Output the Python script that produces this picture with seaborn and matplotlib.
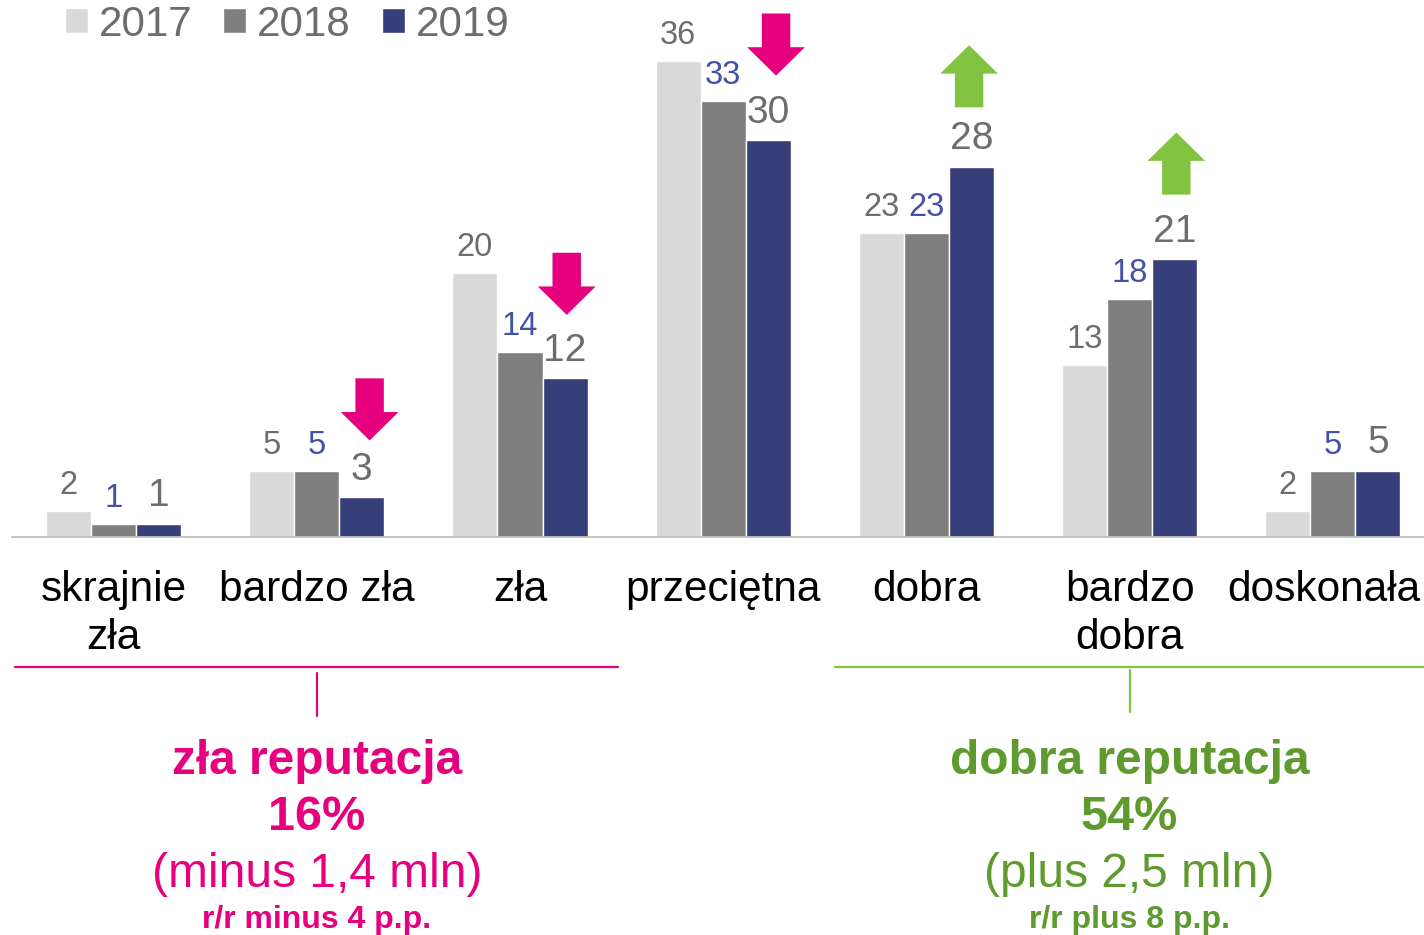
import matplotlib

matplotlib.use("Agg")
import matplotlib.pyplot as plt
import matplotlib.transforms as mtransforms
import numpy as np
import pandas as pd
import seaborn as sns
from matplotlib.patches import Polygon

categories = ["skrajnie\nzła", "bardzo zła", "zła", "przeciętna", "dobra", "bardzo\ndobra", "doskonała"]
years = ["2017", "2018", "2019"]
v2017 = [2, 5, 20, 36, 23, 13, 2]
v2018 = [1, 5, 14, 33, 23, 18, 5]
v2019 = [1, 3, 12, 30, 28, 21, 5]

# change arrows: (category index, x offset, tip value, direction)
arrows = [(1, 0.26, 7.3, "down"), (2, 0.23, 16.8, "down"), (3, 0.26, 34.9, "down"),
          (4, 0.21, 37.2, "up"), (5, 0.23, 30.6, "up")]

PINK = "#e6007e"
GREEN_TXT = "#5f9a2e"
GREEN = "#82c341"
GREY_TXT = "#6d6d6d"
BLUE_TXT = "#4351a8"
palette = ["#d9d9d9", "#7f7f7f", "#363f7a"]

df = pd.DataFrame({
    "kategoria": categories * 3,
    "rok": np.repeat(years, len(categories)),
    "wartosc": v2017 + v2018 + v2019,
})

sns.set_theme(style="white")
plt.rcParams["font.family"] = ["Liberation Sans", "DejaVu Sans"]

fig = plt.figure(figsize=(14.24, 9.35), dpi=100)
ax = fig.add_axes([12 / 1424, 0.4257, 1422.4 / 1424, 0.5726])

sns.barplot(data=df, x="kategoria", y="wartosc", hue="rok", palette=palette,
            width=0.665, gap=0, saturation=1, ax=ax)
ax.set_xlim(-0.5, 6.5)
ax.set_ylim(0, 40.5)

# value labels
for cont, color, size in zip(ax.containers, [GREY_TXT, BLUE_TXT, GREY_TXT], [23.5, 23.5, 28]):
    ax.bar_label(cont, padding=7, color=color, fontsize=size)

# arrows
HW, SW, HL, L = 0.142, 0.07, 2.15, 4.7
for idx, off, tip, d in arrows:
    x = idx + off
    s = 1 if d == "down" else -1
    color = PINK if d == "down" else GREEN
    verts = [(x, tip), (x - HW, tip + s * HL), (x - SW, tip + s * HL), (x - SW, tip + s * L),
             (x + SW, tip + s * L), (x + SW, tip + s * HL), (x + HW, tip + s * HL)]
    ax.add_patch(Polygon(verts, closed=True, color=color, lw=0, clip_on=False))

# axes styling
for sp in ["top", "right", "left"]:
    ax.spines[sp].set_visible(False)
ax.spines["bottom"].set_color("#bfbfbf")
ax.spines["bottom"].set_linewidth(1.3)
ax.set_yticks([])
ax.set_xlabel("")
ax.set_ylabel("")
ax.set_xticks(np.arange(-0.5, 7.0, 1.0), minor=True)
ax.tick_params(axis="x", which="minor", length=9, width=1.3, color="#bfbfbf", direction="out")
ax.tick_params(axis="x", which="major", length=0, pad=24, labelsize=30.5, labelcolor="black")
for lbl in ax.get_xticklabels():
    lbl.set_linespacing(1.24)
# last label sits against the right edge, nudge it left a bit
last = ax.get_xticklabels()[-1]
last.set_transform(last.get_transform() + mtransforms.ScaledTranslation(-9 / 100, 0, fig.dpi_scale_trans))

# legend
sns.move_legend(ax, "upper left", bbox_to_anchor=(0.0455, 0.995), bbox_transform=fig.transFigure,
                ncol=3, frameon=False, title=None, fontsize=30.3, labelcolor=GREY_TXT,
                handlelength=0.55, handleheight=0.55, handletextpad=0.25,
                columnspacing=0.74, borderpad=0, borderaxespad=0)

# group brackets and summaries
yline = -9.83
ax.plot([-0.485, 2.48], [yline, yline], color=PINK, lw=1.6, clip_on=False)
ax.plot([1, 1], [yline - 0.45, yline - 3.7], color=PINK, lw=1.6, clip_on=False)
ax.plot([3.55, 6.5], [yline, yline], color=GREEN, lw=1.6, clip_on=False)
ax.plot([5, 5], [yline - 0.25, yline - 3.4], color=GREEN, lw=1.6, clip_on=False)

summaries = [
    (1, PINK, "zła reputacja", "16%", "(minus 1,4 mln)", "r/r minus 4 p.p."),
    (5, GREEN_TXT, "dobra reputacja", "54%", "(plus 2,5 mln)", "r/r plus 8 p.p."),
]
for x, c, t1, t2, t3, t4 in summaries:
    ax.text(x, -16.95, t1, ha="center", va="center", fontsize=34.5, fontweight="bold", color=c)
    ax.text(x, -21.2, t2, ha="center", va="center", fontsize=35, fontweight="bold", color=c)
    ax.text(x, -25.5, t3, ha="center", va="center", fontsize=34.5, color=c)
    ax.text(x, -29.0, t4, ha="center", va="center", fontsize=23, fontweight="bold", color=c)

fig.savefig("out.png", dpi=100)
